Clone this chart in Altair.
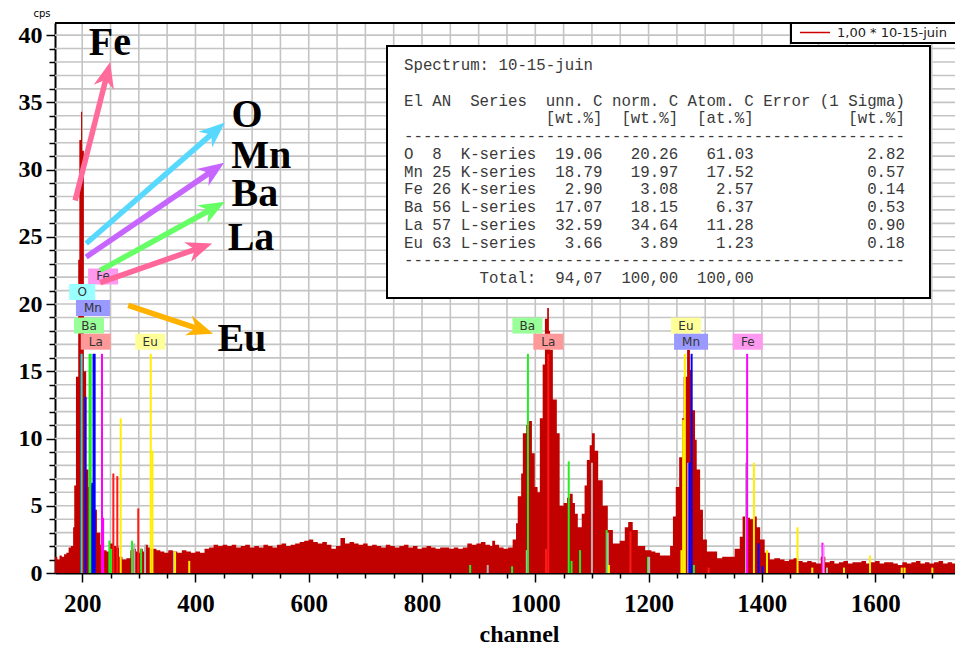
import math
import altair as alt
import pandas as pd

# ---------------- spectrum (channel start, cps) ----------------
channels = [152, 156, 160, 164, 168, 172, 176, 180, 184, 186, 189, 193, 195, 198, 200, 203, 207, 211, 214, 219,
            226, 232, 237, 243, 249, 255, 260, 265, 271, 278, 285, 290, 295, 299, 302, 307, 311, 316, 320, 325,
            331, 338, 345, 352, 360, 368, 376, 384, 392, 400, 408, 416, 424, 432, 440, 448, 456, 464, 472, 480,
            488, 496, 504, 512, 520, 528, 536, 544, 552, 560, 568, 576, 584, 592, 600, 608, 616, 624, 632, 640,
            648, 656, 664, 672, 680, 688, 696, 704, 712, 720, 728, 736, 744, 752, 760, 768, 776, 784, 792, 800,
            808, 816, 824, 832, 840, 848, 856, 864, 872, 880, 888, 896, 904, 912, 920, 924, 929, 936, 944, 952,
            960, 966, 969, 975, 978, 984, 989, 994, 999, 1004, 1008, 1013, 1017, 1021, 1024, 1026, 1031, 1038, 1043, 1050,
            1056, 1061, 1066, 1070, 1075, 1082, 1087, 1091, 1096, 1100, 1105, 1111, 1119, 1128, 1137, 1149, 1158, 1164, 1172, 1181,
            1194, 1205, 1212, 1220, 1230, 1238, 1243, 1248, 1254, 1259, 1262, 1268, 1273, 1277, 1282, 1285, 1291, 1296, 1303, 1312,
            1321, 1330, 1340, 1352, 1361, 1366, 1374, 1379, 1385, 1391, 1397, 1405, 1414, 1422, 1432, 1440, 1448, 1456, 1464, 1472,
            1480, 1488, 1496, 1504, 1512, 1520, 1528, 1536, 1544, 1552, 1560, 1568, 1576, 1584, 1592, 1600, 1608, 1616, 1624, 1632,
            1640, 1648, 1656, 1664, 1672, 1680, 1688, 1696, 1704, 1712, 1720, 1728, 1736, 1745]
counts = [1.2, 1.0, 1.3, 1.2, 1.4, 1.5, 1.9, 2.0, 3.4, 6.5, 14.6, 23.3, 32.2, 34.3, 31.4, 15.0, 7.7, 6.4, 6.5, 4.7,
          3.0, 2.1, 1.7, 1.6, 2.2, 2.0, 1.9, 1.2, 1.0, 1.1, 1.7, 1.8, 1.6, 1.5, 1.8, 1.6, 2.1, 1.9, 1.8, 1.8,
          1.7, 1.6, 1.5, 1.7, 1.6, 1.5, 1.7, 1.6, 1.5, 1.6, 1.5, 1.8, 1.9, 2.1, 2.0, 2.1, 2.0, 2.1, 1.9, 2.0,
          2.1, 1.9, 2.0, 1.9, 2.1, 2.0, 1.9, 2.1, 2.2, 2.0, 2.1, 2.2, 2.3, 2.4, 2.5, 2.3, 2.2, 2.3, 2.1, 1.8,
          2.0, 2.6, 2.2, 2.3, 2.2, 2.1, 2.2, 2.0, 2.1, 2.0, 1.9, 2.1, 2.0, 1.9, 2.0, 2.1, 1.9, 2.0, 1.8, 1.9,
          2.0, 1.9, 1.8, 1.9, 1.9, 1.8, 1.9, 1.8, 1.9, 2.2, 2.1, 2.2, 2.3, 2.1, 2.0, 2.4, 2.1, 1.9, 1.8, 1.9,
          2.5, 3.7, 5.7, 7.4, 10.4, 11.0, 11.3, 8.9, 6.4, 6.0, 11.5, 15.5, 18.9, 19.7, 18.0, 16.6, 12.9, 10.4, 5.0, 5.2,
          5.6, 5.9, 5.2, 4.4, 3.4, 4.4, 6.5, 8.4, 9.5, 10.4, 9.1, 6.9, 5.0, 3.2, 2.2, 2.4, 3.4, 3.8, 3.2, 2.0,
          1.7, 1.6, 1.5, 1.3, 1.3, 2.0, 4.2, 6.4, 8.6, 11.5, 14.6, 16.6, 15.1, 12.1, 9.9, 7.7, 4.7, 2.5, 1.6, 1.6,
          1.1, 1.2, 1.2, 1.8, 2.7, 4.2, 4.1, 4.0, 4.2, 3.4, 2.5, 1.5, 1.0, 1.1, 1.0, 0.9, 1.0, 1.1, 0.9, 0.8,
          0.9, 0.8, 0.7, 1.2, 0.8, 0.9, 0.7, 0.8, 0.9, 0.7, 0.8, 0.8, 0.9, 0.7, 0.8, 0.9, 0.7, 0.8, 0.8, 0.7,
          0.6, 0.8, 0.7, 0.8, 0.9, 0.7, 0.8, 0.7, 0.8, 0.9, 0.7, 0.8, 0.7, 0.7]

# ---------------- element marker lines ----------------
line_ch = [199, 206, 213, 215, 220, 222, 218, 235, 237, 248, 251, 255, 262, 268, 288, 292, 299, 304, 311, 321,
           324, 362, 364, 389, 885, 916, 959, 985, 987, 1019, 1023, 1059, 1064, 1079, 1100, 1126, 1128, 1130, 1168, 1199,
           1201, 1258, 1261, 1264, 1270, 1272, 1276, 1280, 1306, 1372, 1374, 1386, 1394, 1401, 1409, 1463, 1489, 1507, 1509, 1515,
           1545, 1591, 1647, 1652, 1701]
line_top = [16.3, 13.1, 16.3, 16.3, 16.3, 16.3, 6.7, 16.3, 4.1, 2.4, 1.8, 7.4, 7.2, 11.5, 2.4, 2.2, 4.8, 1.8, 2.1, 16.3,
            9.1, 1.6, 1.6, 0.9, 0.6, 0.6, 0.5, 1.7, 16.3, 1.8, 16.3, 8.3, 0.9, 1.7, 8.2, 3.2, 3.0, 0.6, 3.1, 1.2,
            1.2, 1.7, 11.4, 16.3, 8.2, 8.2, 16.3, 0.6, 0.4, 8.2, 16.3, 8.2, 2.2, 0.5, 1.7, 3.4, 0.4, 2.25, 2.1, 0.4,
            0.4, 1.3, 0.4, 0.4, 0.4]
line_el = ["O", "Mn", "Ba", "Ba", "Mn", "Mn", "Mn", "Fe", "Fe", "Ba", "Ba", "La", "La", "Eu", "Ba", "esc", "La", "Ba", "esc", "Eu",
           "Eu", "esc", "Eu", "Eu", "Ba", "esc", "Ba", "esc", "Ba", "La", "La", "Ba", "Ba", "Ba", "esc", "Ba", "esc", "Eu", "La", "Ba",
           "esc", "Eu", "Eu", "Eu", "esc", "Mn", "Mn", "Ba", "La", "esc", "Fe", "Eu", "Mn", "Mn", "Eu", "Eu", "Eu", "Fe", "Fe2", "esc",
           "Eu", "Eu", "Eu", "Eu", "Eu"]
line_colors = {"O": "#22dddd", "Mn": "#0000ff", "Ba": "#22ee22", "La": "#ff1a1a", "Eu": "#ffee00",
               "Fe": "#ff00ff", "Fe2": "#ff88ff", "esc": "#b4b4b4"}

# ---------------- element label boxes ----------------
lab_el = ["Fe", "O", "Mn", "Ba", "La", "Eu", "Ba", "La", "Eu", "Mn", "Fe"]
lab_ch = [237, 200, 219, 212, 224, 320, 986, 1023, 1266, 1275, 1375]
lab_level = [22.05, 20.9, 19.7, 18.4, 17.2, 17.2, 18.4, 17.2, 18.4, 17.2, 17.2]
lab_fill = {"Fe": "#ff99f0", "O": "#99ffff", "Mn": "#9999ff", "Ba": "#99ff99", "La": "#ff9999", "Eu": "#ffff99"}

# ---------------- big annotations with arrows ----------------
big_text = ["Fe", "O", "Mn", "Ba", "La", "Eu"]
big_ch = [249, 491, 516, 505, 498, 482]
big_val = [38.5, 33.2, 30.1, 27.3, 24.0, 16.5]
arrow_color = ["#ff6b9a", "#57d8ff", "#c666ff", "#66ff66", "#ff6699", "#ffb300"]
arrow_x0 = [187.6, 207.0, 207.0, 231.8, 231.8, 281.2]
arrow_y0 = [27.7, 24.5, 23.5, 22.5, 21.6, 19.9]
arrow_x1 = [249.4, 452.0, 450.6, 452.0, 429.4, 431.2]
arrow_y1 = [38.0, 33.5, 30.5, 27.6, 24.5, 17.8]

# ---------------- gridlines and ticks ----------------
x_ticks = list(range(200, 1750, 50))
y_ticks = list(range(0, 41))

# ---------------- result table ----------------
table_lines = [
    "Spectrum: 10-15-juin",
    "",
    "El AN  Series  unn. C norm. C Atom. C Error (1 Sigma)",
    "               [wt.%]  [wt.%]  [at.%]          [wt.%]",
    "-----------------------------------------------------",
    "O  8  K-series  19.06   20.26   61.03            2.82",
    "Mn 25 K-series  18.79   19.97   17.52            0.57",
    "Fe 26 K-series   2.90    3.08    2.57            0.14",
    "Ba 56 L-series  17.07   18.15    6.37            0.53",
    "La 57 L-series  32.59   34.64   11.28            0.90",
    "Eu 63 L-series   3.66    3.89    1.23            0.18",
    "-----------------------------------------------------",
    "        Total:  94,07  100,00  100,00",
]
legend_text = "1,00 * 10-15-juin"

# ---------------- geometry ----------------
W, H = 900, 550
XD = [152, 1741]
YD = [0, 40.9]
PXCH = W / (XD[1] - XD[0])
PXV = H / (YD[1] - YD[0])

spec = pd.DataFrame({"ch": channels, "cps": counts})
lines_df = pd.DataFrame({"ch": line_ch, "top": line_top,
                         "color": [line_colors[e] for e in line_el]})
lab_df = pd.DataFrame({"el": lab_el, "ch": lab_ch, "lev": lab_level,
                       "fill": [lab_fill[e] for e in lab_el]})
big_df = pd.DataFrame({"t": big_text, "ch": big_ch, "v": big_val})
gx_df = pd.DataFrame({"gx": x_ticks, "k": ["v"] * len(x_ticks)})
gy_df = pd.DataFrame({"gy": [v for v in y_ticks if v > 0], "k": ["h"] * 40})

K = 13.0
rows = []
for c, x0, y0, x1, y1 in zip(arrow_color, arrow_x0, arrow_y0, arrow_x1, arrow_y1):
    dx = (x1 - x0) * PXCH
    dy = -(y1 - y0) * PXV
    L = math.hypot(dx, dy)
    ang = math.degrees(math.atan2(dx, -dy)) % 360
    back = 1.3 * K / L
    xe = x1 - (x1 - x0) * back
    ye = y1 - (y1 - y0) * back
    rows.append({"c": c, "x0": x0, "y0": y0, "xe": xe, "ye": ye, "x1": x1, "y1": y1, "ang": ang})
arr_df = pd.DataFrame(rows)

one = pd.DataFrame({"a": [0]})

xscale = alt.Scale(domain=XD, nice=False, zero=False)
yscale = alt.Scale(domain=YD, nice=False, zero=False)

x_axis = alt.Axis(values=x_ticks, format="d",
                  labelExpr="datum.value % 200 === 0 ? datum.label : ''",
                  labelOverlap=False, labelFont="Liberation Serif", labelFontWeight="bold",
                  labelFontSize=25, labelColor="black", labelPadding=9,
                  tickColor="black", tickWidth=1.5,
                  tickSize={"condition": {"test": "datum.value % 200 === 0", "value": 9}, "value": 5},
                  domainColor="black", domainWidth=2, grid=False,
                  titleFont="Liberation Serif", titleFontWeight="bold",
                  titleFontSize=24, titleColor="black", titleX=464, titleY=68,
                  titleBaseline="alphabetic")
y_axis = alt.Axis(values=y_ticks, format="d",
                  labelExpr="datum.value % 5 === 0 ? datum.label : ''",
                  labelOverlap=False, labelFont="Liberation Serif", labelFontWeight="bold",
                  labelFontSize=24, labelColor="black", labelPadding=4,
                  tickColor="black", tickWidth=1.5,
                  tickSize={"condition": {"test": "datum.value % 5 === 0", "value": 9}, "value": 6},
                  domainColor="black", domainWidth=2, grid=False)

XT = "channel"


def X(f):
    return alt.X(f, title=XT, axis=x_axis, scale=xscale)


def Y(f):
    return alt.Y(f, title=None, axis=y_axis, scale=yscale)


GRID = "#c4c4c4"
grid_v = alt.Chart(gx_df).mark_rule(color=GRID, strokeWidth=1.6, opacity=1).encode(
    x=X("gx:Q"), y=alt.value(0), y2=alt.value(H))
grid_h = alt.Chart(gy_df).mark_rule(color=GRID, strokeWidth=1.6, opacity=1).encode(
    y=Y("gy:Q"), x=alt.value(0), x2=alt.value(W))

base_spec = alt.Chart(spec).mark_area(interpolate="step-after", color="#c10000", clip=True).encode(
    x=X("ch:Q"), y=Y("cps:Q"),
)

rules = alt.Chart(lines_df).mark_rule(strokeWidth=2, clip=True).encode(
    x=X("ch:Q"), y=Y("top:Q"), y2=alt.datum(0),
    color=alt.Color("color:N", scale=None),
)

boxes = alt.Chart(lab_df).transform_calculate(
    w="datum.el === 'Mn' ? 34 : (datum.el === 'O' ? 26 : 30)"
).transform_calculate(
    xa=f"datum.ch - datum.w / 2 / {PXCH}", xb=f"datum.ch + datum.w / 2 / {PXCH}",
    ya=f"datum.lev - 8 / {PXV}", yb=f"datum.lev + 8 / {PXV}",
).mark_rect().encode(
    x=X("xa:Q"), x2="xb:Q", y=Y("ya:Q"), y2="yb:Q",
    color=alt.Color("fill:N", scale=None),
)
box_text = alt.Chart(lab_df).mark_text(font="DejaVu Sans", fontSize=12, color="#333333",
                                       baseline="middle", align="center").encode(
    x=X("ch:Q"), y=Y("lev:Q"), text="el:N")

arrow_lines = alt.Chart(arr_df).mark_rule(strokeWidth=5.5).encode(
    x=X("x0:Q"), y=Y("y0:Q"), x2="xe:Q", y2="ye:Q",
    color=alt.Color("c:N", scale=None))
arrow_heads = alt.Chart(arr_df).mark_point(
    shape="M0,0 L0.8,2 L0,1.4 L-0.8,2 Z", filled=True, opacity=1, size=(2 * K) ** 2, strokeWidth=0
).encode(
    x=X("x1:Q"), y=Y("y1:Q"),
    color=alt.Color("c:N", scale=None), angle=alt.Angle("ang:Q", scale=None))

big = alt.Chart(big_df).mark_text(font="Liberation Serif", fontWeight="bold", fontSize=40,
                                  color="black", align="center", baseline="alphabetic").encode(
    x=X("ch:Q"), y=Y("v:Q"), text="t:N")

ZW = "\u200b"
nb = [ZW + (s.replace(" ", "\u00a0") if s else "\u00a0") for s in table_lines]
table_box = alt.Chart(one).mark_rect(fill="white", stroke="black", strokeWidth=2).encode(
    x=alt.value(332), x2=alt.value(875), y=alt.value(23), y2=alt.value(275))
table_text = alt.Chart(one).mark_text(font="Liberation Mono", fontSize=15.75, color="#3a3a3a",
                                      align="left", baseline="top", lineBreak="\n", lineHeight=17.75).encode(
    x=alt.value(349), y=alt.value(35), text=alt.value("\n".join(nb)))

leg_box = alt.Chart(one).mark_rect(fill="white", stroke="black", strokeWidth=2).encode(
    x=alt.value(736), x2=alt.value(910), y=alt.value(0), y2=alt.value(20))
leg_line = alt.Chart(one).mark_rule(color="#cc0000", strokeWidth=1.5).encode(
    x=alt.value(745), x2=alt.value(775), y=alt.value(9.5))
leg_text = alt.Chart(one).mark_text(font="DejaVu Sans", fontSize=13, color="#222222",
                                    align="left", baseline="middle").encode(
    x=alt.value(782), y=alt.value(10), text=alt.value(legend_text))

top_rule = alt.Chart(one).mark_rule(color="black", strokeWidth=2).encode(
    x=alt.value(0), x2=alt.value(W), y=alt.value(0))
cps = alt.Chart(one).mark_text(font="DejaVu Sans", fontSize=10, color="black",
                               align="center", baseline="middle").encode(
    x=alt.value(-13), y=alt.value(-9), text=alt.value("cps"))

chart = alt.layer(
    grid_v, grid_h, base_spec, rules, boxes, box_text, arrow_lines, arrow_heads, big,
    table_box, table_text, top_rule, leg_box, leg_line, leg_text, cps
).properties(
    width=W, height=H, background="white",
    autosize=alt.AutoSizeParams(type="none"),
    padding={"left": 55, "top": 23, "right": 0, "bottom": 72},
).configure_view(strokeWidth=0)

chart.save("out.html", embed_options={"renderer": "svg", "actions": False})
